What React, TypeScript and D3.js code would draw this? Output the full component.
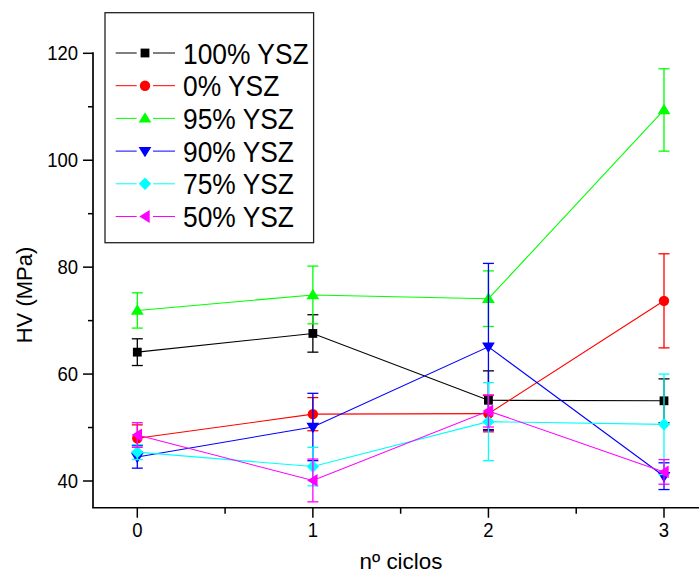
import React from "react";
import * as d3 from "d3";

const cycles = [0, 1, 2, 3];
const seriesNames = ["100% YSZ", "0% YSZ", "95% YSZ", "90% YSZ", "75% YSZ", "50% YSZ"];
const seriesColors = ["#000000", "#ff0000", "#00ff00", "#0000ff", "#00ffff", "#ff00ff"];
const seriesSymbols = ["square", "circle", "up", "down", "diamond", "left"];
const hv100 = [64.1, 67.6, 55.1, 55.0];
const err100 = [2.5, 3.5, 5.5, 4.1];
const hv0 = [48.0, 52.5, 52.6, 73.7];
const err0 = [2.5, 3.1, 3.4, 8.8];
const hv95 = [71.9, 74.8, 74.1, 109.4];
const err95 = [3.3, 5.4, 5.2, 7.7];
const hv90 = [44.5, 50.1, 65.1, 40.9];
const err90 = [2.1, 6.3, 15.6, 2.5];
const hv75 = [45.4, 42.7, 51.1, 50.6];
const err75 = [1.4, 3.6, 7.3, 9.4];
const hv50 = [48.6, 40.1, 53.1, 41.7];
const err50 = [2.3, 4.0, 3.0, 2.3];
const seriesValues = [hv100, hv0, hv95, hv90, hv75, hv50];
const seriesErrors = [err100, err0, err95, err90, err75, err50];
const yTicks = [40, 60, 80, 100, 120];
const yMinor = [50, 70, 90, 110];
const xTicks = [0, 1, 2, 3];
const xMinor = [0.5, 1.5, 2.5];

const FONT = "'Liberation Sans', Arial, Helvetica, sans-serif";

function Marker({ type, cx, cy, color }: { type: string; cx: number; cy: number; color: string }) {
  if (type === "square") return <rect x={cx - 4.4} y={cy - 4.4} width={8.8} height={8.8} fill={color} />;
  if (type === "circle") return <circle cx={cx} cy={cy} r={5.2} fill={color} />;
  if (type === "up")
    return <path d={`M${cx},${cy - 6.2} L${cx + 6.4},${cy + 4.2} L${cx - 6.4},${cy + 4.2} Z`} fill={color} />;
  if (type === "down")
    return <path d={`M${cx},${cy + 6.2} L${cx + 6.4},${cy - 4.2} L${cx - 6.4},${cy - 4.2} Z`} fill={color} />;
  if (type === "diamond")
    return <path d={`M${cx},${cy - 6.2} L${cx + 6.2},${cy} L${cx},${cy + 6.2} L${cx - 6.2},${cy} Z`} fill={color} />;
  return <path d={`M${cx - 5.7},${cy} L${cx + 4.7},${cy - 6.4} L${cx + 4.7},${cy + 6.4} Z`} fill={color} />;
}

export default function App() {
  const x = d3.scaleLinear().domain([0, 3]).range([137.3, 664]);
  const y = d3.scaleLinear().domain([40, 120]).range([481, 53.3]);
  const axisLeft = 93;
  const axisBottom = y(35);
  const line = d3
    .line<number>()
    .x((_, i) => x(cycles[i]))
    .y((d) => y(d));

  const legX = 105, legY = 12.7, legW = 208.6, legH = 230;
  const rowY0 = 53, rowStep = 32.7;

  return (
    <svg
      width={699}
      height={575}
      style={{ position: "absolute", left: 0, top: 0, background: "#fff" }}
      fontFamily={FONT}
    >
      <rect width={699} height={575} fill="#fff" />
      {seriesValues.map((vals, s) => (
        <g key={s}>
          <path d={line(vals) || ""} fill="none" stroke={seriesColors[s]} strokeWidth={1.1} />
          {vals.map((v, i) => {
            const e = seriesErrors[s][i];
            const cx = x(cycles[i]);
            return (
              <g key={i} stroke={seriesColors[s]} strokeWidth={1.3}>
                <line x1={cx} x2={cx} y1={y(v + e)} y2={y(v - e)} />
                <line x1={cx - 5.5} x2={cx + 5.5} y1={y(v + e)} y2={y(v + e)} />
                <line x1={cx - 5.5} x2={cx + 5.5} y1={y(v - e)} y2={y(v - e)} />
              </g>
            );
          })}
          {vals.map((v, i) => (
            <Marker key={i} type={seriesSymbols[s]} cx={x(cycles[i])} cy={y(v)} color={seriesColors[s]} />
          ))}
        </g>
      ))}
      <line x1={axisLeft} x2={axisLeft} y1={y(120) - 1} y2={axisBottom} stroke="#000" strokeWidth={1.7} />
      <line x1={axisLeft - 0.8} x2={699} y1={axisBottom} y2={axisBottom} stroke="#000" strokeWidth={1.7} />
      {yTicks.map((t) => (
        <g key={t}>
          <line x1={axisLeft - 10} x2={axisLeft} y1={y(t)} y2={y(t)} stroke="#000" strokeWidth={1.5} />
          <text
            transform={`translate(78,${y(t) + 7}) scale(1,1.08)`}
            textAnchor="end"
            fontSize={18.5}
            fill="#000"
          >
            {t}
          </text>
        </g>
      ))}
      {yMinor.map((t) => (
        <line key={t} x1={axisLeft - 5} x2={axisLeft} y1={y(t)} y2={y(t)} stroke="#000" strokeWidth={1.5} />
      ))}
      {xTicks.map((t) => (
        <g key={t}>
          <line x1={x(t)} x2={x(t)} y1={axisBottom} y2={axisBottom + 10} stroke="#000" strokeWidth={1.5} />
          <text
            transform={`translate(${x(t)},537) scale(1,1.08)`}
            textAnchor="middle"
            fontSize={18.5}
            fill="#000"
          >
            {t}
          </text>
        </g>
      ))}
      {xMinor.map((t) => (
        <line key={t} x1={x(t)} x2={x(t)} y1={axisBottom} y2={axisBottom + 6} stroke="#000" strokeWidth={1.5} />
      ))}
      <text x={401} y={569} textAnchor="middle" fontSize={22.4} fill="#000">
        nº ciclos
      </text>
      <text transform={`translate(32,295) rotate(-90)`} textAnchor="middle" fontSize={22} fill="#000">
        HV (MPa)
      </text>
      <rect x={legX} y={legY} width={legW} height={legH} fill="#fff" stroke="#222" strokeWidth={1.3} />
      {seriesNames.map((name, s) => {
        const ry = rowY0 + s * rowStep;
        return (
          <g key={name}>
            <line x1={115.7} x2={136.7} y1={ry} y2={ry} stroke={seriesColors[s]} strokeWidth={1} />
            <line x1={153} x2={175} y1={ry} y2={ry} stroke={seriesColors[s]} strokeWidth={1} />
            <Marker type={seriesSymbols[s]} cx={145} cy={ry} color={seriesColors[s]} />
            <text transform={`translate(183,${ry + 10.5}) scale(1,1.12)`} fontSize={26.4} fill="#000">
              {name}
            </text>
          </g>
        );
      })}
    </svg>
  );
}
